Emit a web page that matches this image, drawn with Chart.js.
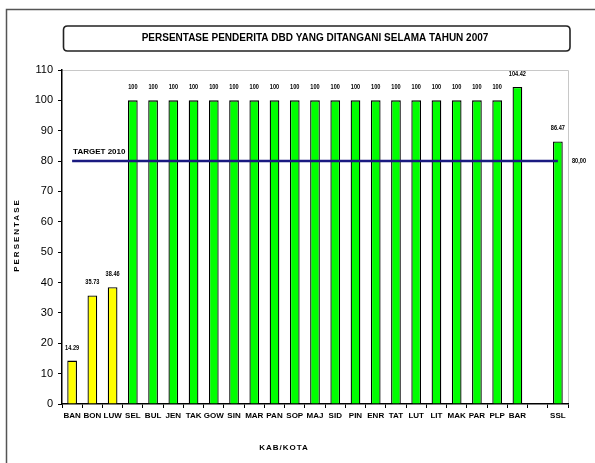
<!DOCTYPE html>
<html><head><meta charset="utf-8">
<script src="https://cdn.jsdelivr.net/npm/chart.js@4.4.1/dist/chart.umd.min.js"></script>
<style>html,body{margin:0;padding:0;background:#fff;overflow:hidden}#wrap{width:595px;height:463px;position:relative}</style>
</head><body><div id="wrap"><canvas id="c" width="595" height="463"></canvas></div>
<script>
const TITLE = 'PERSENTASE PENDERITA DBD YANG DITANGANI SELAMA TAHUN 2007';
const X_TITLE = 'KAB/KOTA';
const Y_TITLE = 'PERSENTASE';
const categories = ['BAN','BON','LUW','SEL','BUL','JEN','TAK','GOW','SIN','MAR','PAN','SOP','MAJ','SID','PIN','ENR','TAT','LUT','LIT','MAK','PAR','PLP','BAR','','SSL'];
const values = [14.29,35.73,38.46,100,100,100,100,100,100,100,100,100,100,100,100,100,100,100,100,100,100,100,104.42,null,86.47];
const valueLabels = ['14.29','35.73','38.46','100','100','100','100','100','100','100','100','100','100','100','100','100','100','100','100','100','100','100','104.42','','86.47'];
const barColors = ['#FFFF00','#FFFF00','#FFFF00','#00FF00','#00FF00','#00FF00','#00FF00','#00FF00','#00FF00','#00FF00','#00FF00','#00FF00','#00FF00','#00FF00','#00FF00','#00FF00','#00FF00','#00FF00','#00FF00','#00FF00','#00FF00','#00FF00','#00FF00','#00FF00','#00FF00'];
const TARGET_VALUE = 80;
const TARGET_NAME = 'TARGET 2010';
const TARGET_LABEL = '80,00';
const Y_MIN = 0, Y_MAX = 110, Y_STEP = 10;

const FONT = '"Liberation Sans","Arial",sans-serif';

function roundRect(ctx,x,y,w,h,r){ctx.beginPath();ctx.moveTo(x+r,y);ctx.lineTo(x+w-r,y);ctx.quadraticCurveTo(x+w,y,x+w,y+r);ctx.lineTo(x+w,y+h-r);ctx.quadraticCurveTo(x+w,y+h,x+w-r,y+h);ctx.lineTo(x+r,y+h);ctx.quadraticCurveTo(x,y+h,x,y+h-r);ctx.lineTo(x,y+r);ctx.quadraticCurveTo(x,y,x+r,y);ctx.closePath();}

function narrowText(ctx,text,x,y,sx){
  ctx.save();ctx.translate(x,y);ctx.scale(sx,1);ctx.fillText(text,0,0);ctx.restore();
}

const decor = {
  id:'decor',
  beforeDraw(chart){
    const ctx=chart.ctx;
    ctx.save();
    ctx.fillStyle='#fff';ctx.fillRect(0,0,chart.width,chart.height);
    // outer frame
    ctx.strokeStyle='#555';ctx.lineWidth=1.5;
    ctx.beginPath();ctx.moveTo(6.5,463);ctx.lineTo(6.5,9.5);ctx.lineTo(595,9.5);ctx.stroke();
    // title box
    ctx.strokeStyle='#222';ctx.lineWidth=1.6;
    roundRect(ctx,63.5,26,506.5,25,4);ctx.stroke();
    // plot border (top/right grey)
    const a=chart.chartArea;
    ctx.strokeStyle='#c8c8c8';ctx.lineWidth=1;
    ctx.beginPath();ctx.moveTo(a.left,a.top+0.5);ctx.lineTo(a.right+0.5,a.top+0.5);ctx.lineTo(a.right+0.5,a.bottom);ctx.stroke();
    ctx.restore();
  },
  afterDatasetsDraw(chart){
    const ctx=chart.ctx, xs=chart.scales.x, ys=chart.scales.y;
    ctx.save();
    // target line
    const yT=ys.getPixelForValue(TARGET_VALUE);
    const x0=xs.getPixelForValue(0), x1=xs.getPixelForValue(categories.length-1);
    ctx.strokeStyle='#1a1a80';ctx.lineWidth=2.5;
    ctx.beginPath();ctx.moveTo(x0,yT);ctx.lineTo(x1,yT);ctx.stroke();
    ctx.fillStyle='#000';
    ctx.font='bold 8px '+FONT;
    ctx.textAlign='left';ctx.textBaseline='middle';
    ctx.fillText(TARGET_NAME,x0+1,yT-9);
    ctx.font='bold 7px '+FONT;
    narrowText(ctx,TARGET_LABEL,chart.chartArea.right+4,yT,0.8);
    // value labels
    ctx.textAlign='center';
    const meta=chart.getDatasetMeta(0);
    meta.data.forEach((bar,i)=>{
      if(values[i]==null)return;
      narrowText(ctx,valueLabels[i],bar.x,ys.getPixelForValue(values[i])-13,0.8);
    });
    // axis titles
    ctx.font='bold 8px '+FONT;
    ctx.textAlign='center';
    ctx.letterSpacing='1px';
    ctx.fillText(X_TITLE,284,447.5);
    ctx.letterSpacing='2px';
    ctx.save();ctx.translate(17,235);ctx.rotate(-Math.PI/2);ctx.fillText(Y_TITLE,0,0);ctx.restore();
    ctx.restore();
  }
};

new Chart(document.getElementById('c'),{
  type:'bar',
  data:{labels:categories,datasets:[{data:values,backgroundColor:barColors,borderColor:'#000',borderWidth:1.3,barPercentage:0.48,categoryPercentage:1}]},
  options:{
    responsive:false,animation:false,devicePixelRatio:1,
    layout:{padding:{left:8,right:27,top:0,bottom:0}},
    plugins:{
      legend:{display:false},tooltip:{enabled:false},
      title:{display:true,fullSize:false,text:TITLE,color:'#000',font:{family:FONT,size:10,weight:'bold'},padding:{top:32.5,bottom:25.5}}
    },
    scales:{
      x:{
        offset:true,
        grid:{display:true,offset:true,drawOnChartArea:false,drawTicks:true,tickLength:4,color:'#000',lineWidth:1},
        border:{display:true,color:'#000',width:1.5},
        ticks:{color:'#000',font:{family:FONT,size:8,weight:'bold'},maxRotation:0,autoSkip:false,padding:3},
        afterFit(s){s.height=59;}
      },
      y:{
        min:Y_MIN,max:Y_MAX,
        grid:{display:true,drawOnChartArea:false,drawTicks:true,tickLength:4,color:'#000'},
        border:{display:true,color:'#000',width:1.5},
        ticks:{stepSize:Y_STEP,color:'#000',font:{family:FONT,size:11},padding:5},
        afterFit(s){s.width=54;}
      }
    }
  },
  plugins:[decor]
});
</script></body></html>
